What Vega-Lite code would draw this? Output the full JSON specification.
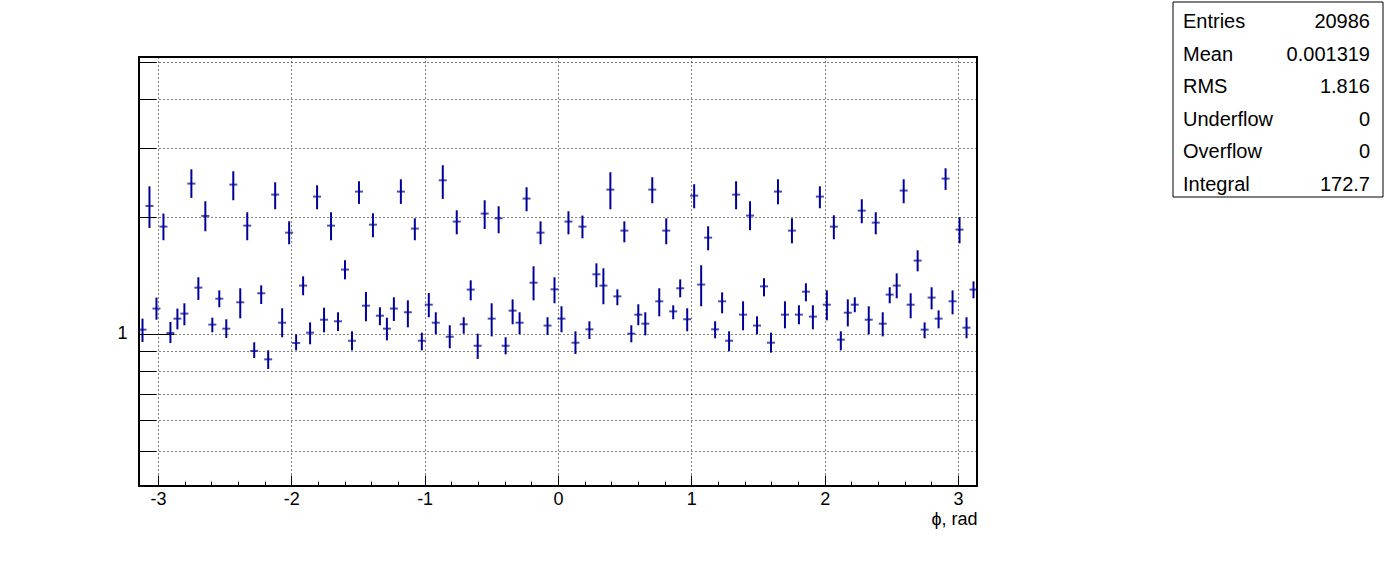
{
  "$schema": "https://vega.github.io/schema/vega-lite/v6.json",
  "width": 838,
  "height": 429,
  "autosize": {"type": "none"},
  "padding": {"left": 139, "top": 57, "right": 419, "bottom": 86},
  "background": "white",
  "config": {"font": "Liberation Sans", "view": {"stroke": "black", "strokeWidth": 2}},
  "datasets": {
    "hist": [
      {"x":-3.1154,"v":1.024,"lo":0.952,"hi":1.093},{"x":-3.0631,"v":2.129,"lo":1.869,"hi":2.392},{"x":-3.0107,"v":1.160,"lo":1.086,"hi":1.238},{"x":-2.9584,"v":1.884,"lo":1.738,"hi":2.035},{"x":-2.9060,"v":1.004,"lo":0.946,"hi":1.072},
      {"x":-2.8536,"v":1.093,"lo":1.026,"hi":1.160},{"x":-2.8013,"v":1.126,"lo":1.051,"hi":1.197},{"x":-2.7489,"v":2.430,"lo":2.233,"hi":2.645},{"x":-2.6965,"v":1.313,"lo":1.221,"hi":1.396},{"x":-2.6442,"v":2.007,"lo":1.833,"hi":2.189},
      {"x":-2.5918,"v":1.055,"lo":1.008,"hi":1.099},{"x":-2.5395,"v":1.230,"lo":1.169,"hi":1.292},{"x":-2.4871,"v":1.030,"lo":0.975,"hi":1.089},{"x":-2.4347,"v":2.416,"lo":2.202,"hi":2.614},{"x":-2.3824,"v":1.204,"lo":1.095,"hi":1.308},
      {"x":-2.3300,"v":1.895,"lo":1.738,"hi":2.051},{"x":-2.2777,"v":0.903,"lo":0.866,"hi":0.950},{"x":-2.2253,"v":1.270,"lo":1.192,"hi":1.331},{"x":-2.1729,"v":0.859,"lo":0.811,"hi":0.906},{"x":-2.1206,"v":2.277,"lo":2.088,"hi":2.449},
      {"x":-2.0682,"v":1.067,"lo":0.979,"hi":1.162},{"x":-2.0159,"v":1.818,"lo":1.697,"hi":1.944},{"x":-1.9635,"v":0.946,"lo":0.906,"hi":0.996},{"x":-1.9111,"v":1.329,"lo":1.255,"hi":1.404},{"x":-1.8588,"v":1.006,"lo":0.939,"hi":1.069},
      {"x":-1.8064,"v":2.250,"lo":2.088,"hi":2.406},{"x":-1.7541,"v":1.086,"lo":1.008,"hi":1.166},{"x":-1.7017,"v":1.895,"lo":1.738,"hi":2.051},{"x":-1.6493,"v":1.076,"lo":1.016,"hi":1.135},{"x":-1.5970,"v":1.461,"lo":1.379,"hi":1.544},
      {"x":-1.5446,"v":0.959,"lo":0.906,"hi":1.014},{"x":-1.4923,"v":2.318,"lo":2.155,"hi":2.464},{"x":-1.4399,"v":1.180,"lo":1.076,"hi":1.280},{"x":-1.3875,"v":1.906,"lo":1.769,"hi":2.039},{"x":-1.3352,"v":1.112,"lo":1.051,"hi":1.169},
      {"x":-1.2828,"v":1.030,"lo":0.961,"hi":1.099},{"x":-1.2305,"v":1.160,"lo":1.078,"hi":1.240},{"x":-1.1781,"v":2.318,"lo":2.155,"hi":2.493},{"x":-1.1257,"v":1.135,"lo":1.038,"hi":1.218},{"x":-1.0734,"v":1.862,"lo":1.738,"hi":1.979},
      {"x":-1.0210,"v":0.959,"lo":0.906,"hi":1.006},{"x":-0.9687,"v":1.187,"lo":1.102,"hi":1.272},{"x":-0.9163,"v":1.067,"lo":0.996,"hi":1.135},{"x":-0.8639,"v":2.478,"lo":2.219,"hi":2.709},{"x":-0.8116,"v":0.982,"lo":0.917,"hi":1.051},
      {"x":-0.7592,"v":1.941,"lo":1.800,"hi":2.075},{"x":-0.7069,"v":1.057,"lo":1.000,"hi":1.102},{"x":-0.6545,"v":1.298,"lo":1.218,"hi":1.371},{"x":-0.6021,"v":0.931,"lo":0.861,"hi":1.000},{"x":-0.5498,"v":2.035,"lo":1.858,"hi":2.202},
      {"x":-0.4974,"v":1.093,"lo":0.984,"hi":1.197},{"x":-0.4451,"v":1.979,"lo":1.811,"hi":2.125},{"x":-0.3927,"v":0.931,"lo":0.885,"hi":0.979},{"x":-0.3403,"v":1.146,"lo":1.057,"hi":1.225},{"x":-0.2880,"v":1.067,"lo":0.996,"hi":1.135},
      {"x":-0.2356,"v":2.224,"lo":2.063,"hi":2.378},{"x":-0.1833,"v":1.352,"lo":1.218,"hi":1.490},{"x":-0.1309,"v":1.818,"lo":1.697,"hi":1.944},{"x":-0.0785,"v":1.049,"lo":0.992,"hi":1.102},{"x":-0.0262,"v":1.300,"lo":1.197,"hi":1.396},
      {"x":0.0262,"v":1.093,"lo":1.008,"hi":1.176},{"x":0.0785,"v":1.941,"lo":1.800,"hi":2.063},{"x":0.1309,"v":0.948,"lo":0.887,"hi":1.014},{"x":0.1833,"v":1.884,"lo":1.758,"hi":2.011},{"x":0.2356,"v":1.026,"lo":0.969,"hi":1.076},
      {"x":0.2880,"v":1.421,"lo":1.316,"hi":1.516},{"x":0.3403,"v":1.329,"lo":1.190,"hi":1.472},{"x":0.3927,"v":2.345,"lo":2.088,"hi":2.599},{"x":0.4451,"v":1.247,"lo":1.183,"hi":1.300},{"x":0.4974,"v":1.840,"lo":1.717,"hi":1.944},
      {"x":0.5498,"v":1.000,"lo":0.950,"hi":1.051},{"x":0.6021,"v":1.119,"lo":1.051,"hi":1.190},{"x":0.6545,"v":1.061,"lo":0.990,"hi":1.135},{"x":0.7069,"v":2.345,"lo":2.163,"hi":2.523},{"x":0.7592,"v":1.211,"lo":1.108,"hi":1.308},
      {"x":0.8116,"v":1.840,"lo":1.697,"hi":1.979},{"x":0.8639,"v":1.141,"lo":1.089,"hi":1.183},{"x":0.9163,"v":1.308,"lo":1.240,"hi":1.379},{"x":0.9687,"v":1.089,"lo":1.014,"hi":1.162},{"x":1.0210,"v":2.263,"lo":2.100,"hi":2.421},
      {"x":1.0734,"v":1.337,"lo":1.176,"hi":1.499},{"x":1.1257,"v":1.765,"lo":1.638,"hi":1.888},{"x":1.1781,"v":1.026,"lo":0.973,"hi":1.076},{"x":1.2305,"v":1.211,"lo":1.128,"hi":1.277},{"x":1.2828,"v":0.959,"lo":0.901,"hi":1.014},
      {"x":1.3352,"v":2.277,"lo":2.088,"hi":2.464},{"x":1.3875,"v":1.119,"lo":1.020,"hi":1.211},{"x":1.4399,"v":2.011,"lo":1.844,"hi":2.189},{"x":1.4923,"v":1.049,"lo":0.996,"hi":1.108},{"x":1.5446,"v":1.323,"lo":1.247,"hi":1.388},
      {"x":1.5970,"v":0.948,"lo":0.894,"hi":1.006},{"x":1.6493,"v":2.318,"lo":2.150,"hi":2.493},{"x":1.7017,"v":1.119,"lo":1.032,"hi":1.211},{"x":1.7541,"v":1.840,"lo":1.707,"hi":1.979},{"x":1.8064,"v":1.119,"lo":1.057,"hi":1.183},
      {"x":1.8588,"v":1.282,"lo":1.211,"hi":1.347},{"x":1.9111,"v":1.106,"lo":1.026,"hi":1.183},{"x":1.9635,"v":2.250,"lo":2.100,"hi":2.392},{"x":2.0159,"v":1.187,"lo":1.082,"hi":1.292},{"x":2.0682,"v":1.884,"lo":1.748,"hi":2.015},
      {"x":2.1206,"v":0.965,"lo":0.906,"hi":1.014},{"x":2.1729,"v":1.132,"lo":1.044,"hi":1.225},{"x":2.2253,"v":1.187,"lo":1.135,"hi":1.240},{"x":2.2777,"v":2.071,"lo":1.922,"hi":2.215},{"x":2.3300,"v":1.086,"lo":0.996,"hi":1.176},
      {"x":2.3824,"v":1.929,"lo":1.800,"hi":2.051},{"x":2.4347,"v":1.061,"lo":0.984,"hi":1.135},{"x":2.4871,"v":1.260,"lo":1.197,"hi":1.316},{"x":2.5395,"v":1.329,"lo":1.233,"hi":1.429},{"x":2.5918,"v":2.332,"lo":2.163,"hi":2.493},
      {"x":2.6442,"v":1.187,"lo":1.095,"hi":1.270},{"x":2.6965,"v":1.541,"lo":1.446,"hi":1.638},{"x":2.7489,"v":1.024,"lo":0.973,"hi":1.069},{"x":2.8013,"v":1.238,"lo":1.155,"hi":1.316},{"x":2.8536,"v":1.093,"lo":1.032,"hi":1.148},
      {"x":2.9060,"v":2.503,"lo":2.341,"hi":2.661},{"x":2.9584,"v":1.211,"lo":1.121,"hi":1.292},{"x":3.0107,"v":1.851,"lo":1.707,"hi":1.991},{"x":3.0631,"v":1.036,"lo":0.973,"hi":1.102},{"x":3.1154,"v":1.298,"lo":1.233,"hi":1.363}
    ],
    "stats": [
      {"row":0,"label":"Entries","value":"20986"},
      {"row":1,"label":"Mean","value":"0.001319"},
      {"row":2,"label":"RMS","value":"1.816"},
      {"row":3,"label":"Underflow","value":"0"},
      {"row":4,"label":"Overflow","value":"0"},
      {"row":5,"label":"Integral","value":"172.7"}
    ]
  },
  "layer": [
    {
      "layer": [
        {
          "data": {"name": "hist"},
          "mark": {"type": "rule", "color": "#000099", "strokeWidth": 2},
          "encoding": {
            "x": {"field": "x", "type": "quantitative",
              "scale": {"domain": [-3.14159, 3.14159], "nice": false, "zero": false},
              "axis": {"values": [-3, -2, -1, 0, 1, 2, 3], "tickSize": -11, "tickColor": "black", "tickWidth": 1,
                "domain": false, "grid": true, "gridColor": "black", "gridDash": [1, 3], "gridWidth": 1, "gridOpacity": 1,
                "labelExpr": "(datum.value < 0 ? '-' : '') + abs(datum.value)", "labelFontSize": 18, "labelColor": "black", "labelPadding": 15,
                "title": "ϕ, rad", "titleFontSize": 18, "titleFontWeight": "normal", "titleColor": "black",
                "titleX": 838, "titleY": 38, "titleAlign": "right", "titleBaseline": "alphabetic"}},
            "y": {"field": "lo", "type": "quantitative",
              "scale": {"type": "log", "domain": [0.406, 5.14], "nice": false},
              "axis": {"values": [0.5, 0.6, 0.7, 0.8, 0.9, 1, 2, 3, 4, 5], "tickSize": -17, "tickColor": "black", "tickWidth": 1,
                "domain": false, "grid": true, "gridColor": "black", "gridDash": [1, 3], "gridWidth": 1, "gridOpacity": 1,
                "labelExpr": "datum.value == 1 ? '1' : ''", "labelFontSize": 18, "labelColor": "black", "labelPadding": 29,
                "title": null}},
            "y2": {"field": "hi"}
          }
        },
        {
          "data": {"name": "hist"},
          "mark": {"type": "tick", "orient": "horizontal", "color": "#000099", "size": 8, "thickness": 2},
          "encoding": {
            "x": {"field": "x", "type": "quantitative",
              "scale": {"domain": [-3.14159, 3.14159], "nice": false, "zero": false},
              "axis": {"orient": "bottom", "values": [-3, -2.8, -2.6, -2.4, -2.2, -2, -1.8, -1.6, -1.4, -1.2, -1, -0.8, -0.6, -0.4, -0.2, 0, 0.2, 0.4, 0.6, 0.8, 1, 1.2, 1.4, 1.6, 1.8, 2, 2.2, 2.4, 2.6, 2.8, 3],
                "tickSize": -5, "tickColor": "black", "tickWidth": 1, "domain": false, "grid": false, "labels": false, "title": null}},
            "y": {"field": "v", "type": "quantitative",
              "scale": {"type": "log", "domain": [0.406, 5.14], "nice": false},
              "axis": {"orient": "left", "values": [1], "tickSize": -35, "tickColor": "black", "tickWidth": 1,
                "domain": false, "grid": false, "labels": false, "title": null}}
          }
        }
      ],
      "resolve": {"axis": {"x": "independent", "y": "independent"}}
    },
    {
      "layer": [
        {
          "data": {"values": [{}]},
          "mark": {"type": "rect", "fill": "white", "stroke": "black", "strokeWidth": 1},
          "encoding": {
            "x": {"datum": 0, "type": "quantitative", "scale": {"domain": [0, 1], "range": [1034, 1244]}, "axis": null},
            "x2": {"datum": 1},
            "y": {"datum": -0.5, "type": "quantitative", "scale": {"domain": [-0.5, 5.5], "range": [-55, 140]}, "axis": null},
            "y2": {"datum": 5.5}
          }
        },
        {
          "data": {"name": "stats"},
          "mark": {"type": "text", "align": "left", "baseline": "middle", "fontSize": 20, "color": "black", "dx": 10, "dy": 4},
          "encoding": {
            "x": {"datum": 0, "type": "quantitative"},
            "y": {"field": "row", "type": "quantitative"},
            "text": {"field": "label"}
          }
        },
        {
          "data": {"name": "stats"},
          "mark": {"type": "text", "align": "right", "baseline": "middle", "fontSize": 20, "color": "black", "dx": -13, "dy": 4},
          "encoding": {
            "x": {"datum": 1, "type": "quantitative"},
            "y": {"field": "row", "type": "quantitative"},
            "text": {"field": "value"}
          }
        }
      ]
    }
  ],
  "resolve": {"scale": {"x": "independent", "y": "independent"}, "axis": {"x": "independent", "y": "independent"}}
}
